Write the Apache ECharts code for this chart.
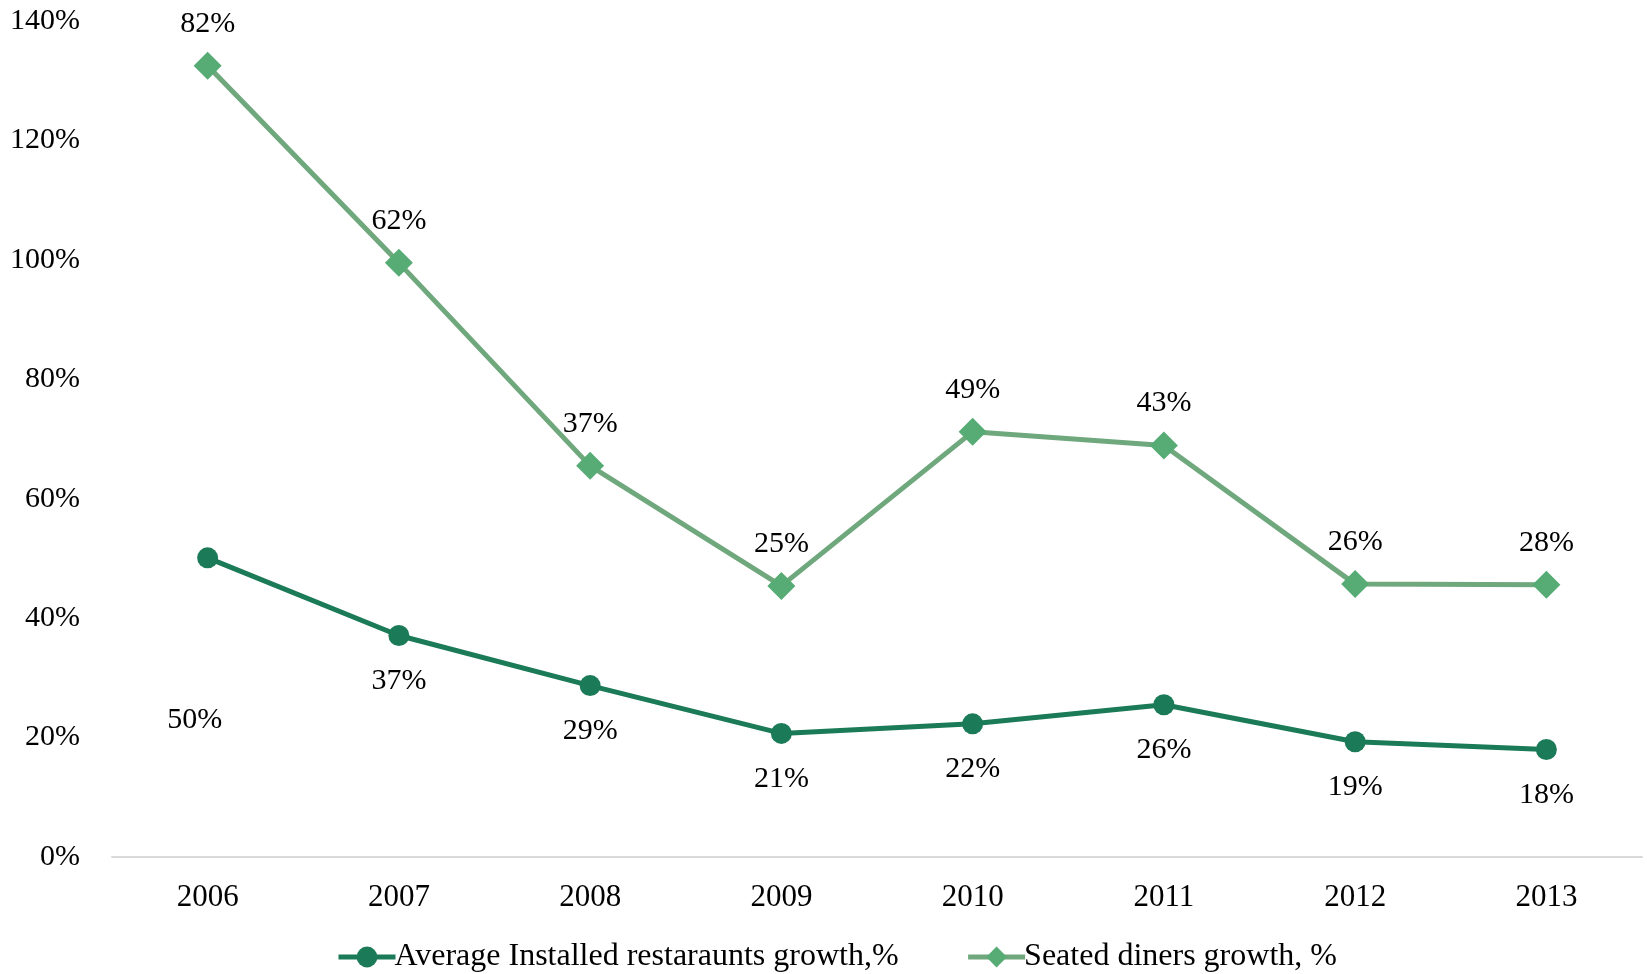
<!DOCTYPE html>
<html><head><meta charset="utf-8">
<script src="https://cdn.jsdelivr.net/npm/echarts@6/dist/echarts.min.js"></script>
<style>html,body{margin:0;padding:0;background:#fff}#c{width:1647px;height:974px}</style>
</head><body><div id="c"></div>
<script>
const years = ['2006','2007','2008','2009','2010','2011','2012','2013'];
const restaurantsGrowth = [50.1, 37.1, 28.7, 20.7, 22.3, 25.5, 19.3, 18.0];
const dinersGrowth = [82.4, 62.4, 36.8, 24.7, 48.9, 43.4, 26.4, 27.6];
const yTicks = [0, 20, 40, 60, 80, 100, 120, 140];
const names = ['Average Installed restaraunts growth,%', 'Seated diners growth, %'];

const FONT = 'Liberation Serif';
const DARK = '#1b7a57', LIGHT_LINE = '#70a87d', LIGHT_MARK = '#56ac74';
const fmt = p => Math.round(p.value) + '%';
const chart = echarts.init(document.getElementById('c'));
chart.setOption({
  animation: false,
  textStyle: { fontFamily: FONT, color: '#000' },
  grid: { left: 112, right: 5, top: 21, bottom: 117 },
  legend: {
    top: 936, left: 331, itemWidth: 57, itemHeight: 26, itemGap: 67,
    textStyle: { fontFamily: FONT, fontSize: 32, color: '#000', padding: [0, 0, 0, -6] },
    data: [
      { name: names[0], lineStyle: { width: 5, color: DARK }, itemStyle: { color: DARK } },
      { name: names[1], lineStyle: { width: 5, color: LIGHT_LINE }, itemStyle: { color: LIGHT_MARK } }
    ]
  },
  xAxis: {
    type: 'category', data: years, boundaryGap: true,
    axisLine: { lineStyle: { color: '#d9d9d9', width: 2 } },
    axisTick: { show: false },
    axisLabel: { fontFamily: FONT, fontSize: 31, color: '#000', margin: 25 }
  },
  yAxis: {
    type: 'value', min: yTicks[0], max: yTicks[yTicks.length - 1], interval: 20,
    axisLine: { show: false }, axisTick: { show: false }, splitLine: { show: false },
    axisLabel: { fontFamily: FONT, fontSize: 30, color: '#000', margin: 32, formatter: '{value}%' }
  },
  series: [
    {
      name: names[0], type: 'line', stack: 'total',
      data: restaurantsGrowth.map((v, i) => i === 0 ? { value: v, label: { position: 'bottom', distance: 0, offset: [-13, 137] } } : v),
      symbol: 'circle', symbolSize: 21,
      lineStyle: { color: DARK, width: 5 },
      itemStyle: { color: DARK },
      label: { show: true, position: 'bottom', distance: 20, formatter: fmt, fontFamily: FONT, fontSize: 30, color: '#000' }
    },
    {
      name: names[1], type: 'line', stack: 'total',
      data: dinersGrowth,
      symbol: 'diamond', symbolSize: 28,
      lineStyle: { color: LIGHT_LINE, width: 5 },
      itemStyle: { color: LIGHT_MARK },
      label: { show: true, position: 'top', distance: 13, formatter: fmt, fontFamily: FONT, fontSize: 30, color: '#000' }
    }
  ]
});
</script></body></html>
